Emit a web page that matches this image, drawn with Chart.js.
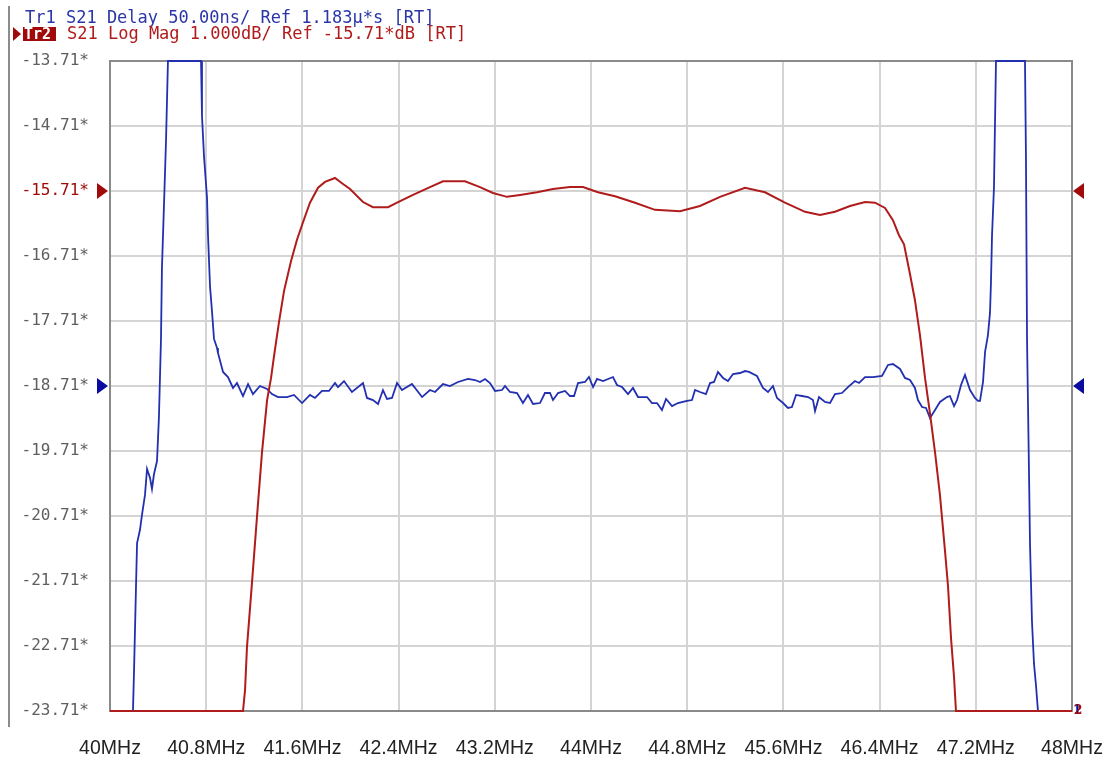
<!DOCTYPE html>
<html>
<head>
<meta charset="utf-8">
<title>S21 Delay / Log Mag</title>
<script src="https://cdn.jsdelivr.net/npm/chart.js@4.4.1/dist/chart.umd.min.js"></script>
<style>
  html, body { margin: 0; padding: 0; background: #ffffff; }
  #wrap { width: 1113px; height: 761px; }
</style>
</head>
<body>
<div id="wrap"><canvas id="vna" width="1113" height="761"></canvas></div>
<script>
// ---------- DATA ----------
// Tr1: S21 group delay (ns), 50 ns/div, ref 1183 ns at the middle line
const freqBlue = [
  40.000, 40.191, 40.200, 40.216, 40.225, 40.249, 40.266, 40.291, 40.308, 40.333,
  40.349, 40.366, 40.391, 40.407, 40.424, 40.432, 40.449, 40.466, 40.482, 40.757,
  40.765, 40.782, 40.807, 40.815, 40.832, 40.848, 40.865, 40.890, 40.898, 40.940,
  40.981, 41.023, 41.056, 41.106, 41.148, 41.189, 41.247, 41.306, 41.347, 41.397,
  41.472, 41.530, 41.597, 41.663, 41.705, 41.763, 41.821, 41.871, 41.896, 41.946,
  42.012, 42.104, 42.137, 42.187, 42.229, 42.270, 42.304, 42.345, 42.387, 42.428,
  42.511, 42.595, 42.661, 42.703, 42.769, 42.827, 42.894, 42.977, 43.035, 43.077,
  43.119, 43.160, 43.202, 43.260, 43.285, 43.326, 43.385, 43.434, 43.476, 43.518,
  43.576, 43.617, 43.659, 43.684, 43.726, 43.784, 43.825, 43.859, 43.892, 43.950,
  43.983, 44.017, 44.050, 44.100, 44.183, 44.216, 44.258, 44.308, 44.349, 44.391,
  44.466, 44.507, 44.549, 44.590, 44.624, 44.674, 44.723, 44.798, 44.840, 44.865,
  44.906, 44.956, 44.990, 45.023, 45.056, 45.098, 45.139, 45.181, 45.239, 45.281,
  45.314, 45.380, 45.430, 45.472, 45.513, 45.547, 45.597, 45.638, 45.671, 45.705,
  45.755, 45.805, 45.846, 45.863, 45.896, 45.946, 45.988, 46.029, 46.087, 46.137,
  46.195, 46.229, 46.279, 46.345, 46.420, 46.470, 46.511, 46.570, 46.611, 46.653,
  46.694, 46.719, 46.753, 46.786, 46.819, 46.861, 46.902, 46.960, 46.985, 47.019,
  47.044, 47.077, 47.110, 47.152, 47.193, 47.218, 47.235, 47.260, 47.277, 47.301,
  47.318, 47.326, 47.335, 47.351, 47.368, 47.609, 47.617, 47.626, 47.642, 47.651,
  47.667, 47.684, 47.701, 47.717, 48.000
];
const delayNs = [
   933.0,  933.0,  964.5, 1027.6, 1062.2, 1072.2, 1083.8, 1099.2, 1119.2, 1112.2,
  1103.8, 1115.3, 1125.3, 1159.2, 1219.2, 1273.8, 1322.2, 1372.2, 1433.0, 1433.0,
  1390.7, 1359.2, 1327.6, 1299.2, 1259.2, 1240.7, 1219.2, 1212.2, 1208.4, 1193.8,
  1189.9, 1181.5, 1185.3, 1175.3, 1184.5, 1176.8, 1183.0, 1180.7, 1176.8, 1174.5,
  1174.5, 1176.1, 1169.9, 1176.1, 1173.8, 1179.2, 1179.2, 1185.3, 1182.2, 1186.8,
  1178.4, 1185.3, 1173.8, 1172.2, 1169.2, 1179.9, 1173.0, 1173.8, 1185.3, 1179.9,
  1184.5, 1174.5, 1179.9, 1178.4, 1184.5, 1183.0, 1186.1, 1188.4, 1187.6, 1186.1,
  1188.4, 1185.3, 1179.2, 1179.9, 1183.0, 1178.4, 1177.6, 1169.9, 1176.1, 1169.2,
  1169.9, 1177.6, 1177.6, 1172.2, 1177.6, 1179.2, 1175.3, 1175.3, 1185.3, 1186.1,
  1189.9, 1182.2, 1188.4, 1186.8, 1189.9, 1183.8, 1182.2, 1176.8, 1181.5, 1174.5,
  1174.5, 1169.9, 1169.9, 1164.5, 1173.0, 1167.6, 1169.9, 1171.5, 1172.2, 1179.9,
  1178.4, 1176.8, 1185.3, 1186.1, 1193.8, 1189.2, 1186.8, 1192.2, 1193.0, 1194.5,
  1193.8, 1190.7, 1181.5, 1178.4, 1183.0, 1173.8, 1169.9, 1166.1, 1166.8, 1176.1,
  1175.3, 1174.5, 1172.2, 1163.8, 1174.5, 1170.7, 1169.9, 1176.8, 1177.6, 1182.2,
  1186.8, 1185.3, 1189.9, 1189.9, 1190.7, 1199.2, 1199.9, 1196.1, 1189.2, 1187.6,
  1181.5, 1172.2, 1166.8, 1166.1, 1158.4, 1164.5, 1170.7, 1174.5, 1175.3, 1167.6,
  1172.2, 1183.8, 1191.5, 1179.9, 1173.8, 1171.5, 1171.5, 1186.1, 1209.2, 1222.2,
  1239.2, 1262.2, 1299.2, 1335.3, 1433.0, 1433.0, 1360.7, 1219.2, 1119.2, 1060.7,
  1002.2,  969.2,  952.2,  933.0,  933.0
];

// Tr2: S21 log magnitude (dB), 1 dB/div, ref -15.71 dB
const freqRed = [
  40.000, 41.106, 41.123, 41.139, 41.181, 41.222, 41.264, 41.306, 41.339, 41.364,
  41.405, 41.447, 41.505, 41.555, 41.605, 41.663, 41.730, 41.788, 41.871, 41.929,
  41.996, 42.104, 42.187, 42.312, 42.387, 42.520, 42.661, 42.769, 42.952, 43.077,
  43.185, 43.301, 43.410, 43.551, 43.684, 43.825, 43.933, 44.058, 44.200, 44.366,
  44.532, 44.740, 44.906, 45.073, 45.281, 45.447, 45.613, 45.780, 45.904, 46.029,
  46.154, 46.279, 46.362, 46.445, 46.511, 46.561, 46.603, 46.653, 46.694, 46.736,
  46.778, 46.819, 46.861, 46.902, 46.944, 46.969, 46.994, 47.019, 47.035, 48.000
];
const magDb = [
  -23.71, -23.71, -23.39, -22.73, -21.73, -20.73, -19.73, -18.93, -18.59, -18.25,
  -17.73, -17.25, -16.79, -16.46, -16.19, -15.89, -15.66, -15.57, -15.51, -15.59,
  -15.68, -15.88, -15.96, -15.96, -15.89, -15.77, -15.65, -15.56, -15.56, -15.65,
  -15.74, -15.80, -15.77, -15.73, -15.68, -15.65, -15.65, -15.73, -15.79, -15.89,
  -16.00, -16.02, -15.94, -15.80, -15.66, -15.73, -15.89, -16.03, -16.08, -16.03,
  -15.94, -15.88, -15.89, -15.97, -16.16, -16.39, -16.53, -16.99, -17.39, -17.93,
  -18.59, -19.13, -19.73, -20.39, -21.25, -21.79, -22.59, -23.19, -23.71, -23.71
];

const yTicks = [-13.71, -14.71, -15.71, -16.71, -17.71, -18.71, -19.71, -20.71, -21.71, -22.71, -23.71];
const xTicks = [40, 40.8, 41.6, 42.4, 43.2, 44, 44.8, 45.6, 46.4, 47.2, 48];
const xTickLabels = ['40MHz', '40.8MHz', '41.6MHz', '42.4MHz', '43.2MHz', '44MHz',
                     '44.8MHz', '45.6MHz', '46.4MHz', '47.2MHz', '48MHz'];

const refDb = -15.71;
const refNs = 1183;
const nsPerDiv = 50;

// ---------- Colours / fonts ----------
const BLUE = '#2230b0';
const RED = '#b01c1c';
const MARK_BLUE = '#0a0aa0';
const MARK_RED = '#a00a0a';
const MONO = '"DejaVu Sans Mono", "Liberation Mono", monospace';

// ---------- Overlay (header, frame, reference markers) ----------
const vnaOverlay = {
  id: 'vnaOverlay',
  beforeDatasetsDraw(chart) {
    const { ctx, chartArea: a } = chart;
    ctx.save();
    ctx.strokeStyle = '#8a8a8a';
    ctx.lineWidth = 2;
    ctx.strokeRect(a.left, a.top, a.right - a.left, a.bottom - a.top);
    ctx.restore();
  },
  afterDraw(chart) {
    const { ctx, chartArea: a, scales } = chart;
    ctx.save();

    // left separator line
    ctx.strokeStyle = '#8c8c8c';
    ctx.lineWidth = 2;
    ctx.beginPath();
    ctx.moveTo(9, 6);
    ctx.lineTo(9, 727);
    ctx.stroke();

    // header
    ctx.font = '17px ' + MONO;
    ctx.textBaseline = 'alphabetic';
    ctx.fillStyle = '#2a36a8';
    ctx.fillText('Tr1 S21 Delay 50.00ns/ Ref 1.183\u00b5*s [RT]', 25, 23);

    ctx.fillStyle = MARK_RED;
    ctx.beginPath();
    ctx.moveTo(13, 27);
    ctx.lineTo(21, 34);
    ctx.lineTo(13, 41);
    ctx.closePath();
    ctx.fill();
    ctx.fillRect(23, 27, 33, 14);
    ctx.fillStyle = '#ffffff';
    ctx.font = 'bold 15px ' + MONO;
    ctx.fillText('Tr2', 24, 39);
    ctx.fillStyle = RED;
    ctx.font = '17px ' + MONO;
    ctx.fillText('S21 Log Mag 1.000dB/ Ref -15.71*dB [RT]', 67, 39);

    // reference markers
    const yr = scales.y.getPixelForValue(refDb);
    const yb = scales.y2.getPixelForValue(refNs);
    const tri = (y, color, left) => {
      ctx.fillStyle = color;
      ctx.beginPath();
      if (left) {
        ctx.moveTo(a.left - 13, y - 8);
        ctx.lineTo(a.left - 2, y);
        ctx.lineTo(a.left - 13, y + 8);
      } else {
        ctx.moveTo(a.right + 12, y - 8);
        ctx.lineTo(a.right + 1, y);
        ctx.lineTo(a.right + 12, y + 8);
      }
      ctx.closePath();
      ctx.fill();
    };
    tri(yr, MARK_RED, true);
    tri(yb, MARK_BLUE, true);
    tri(yr, MARK_RED, false);
    tri(yb, MARK_BLUE, false);

    // stimulus end markers
    ctx.font = 'bold 12px "DejaVu Serif", serif';
    ctx.textBaseline = 'middle';
    ctx.fillStyle = MARK_BLUE;
    ctx.fillText('1', a.right + 1, a.bottom);
    ctx.fillStyle = MARK_RED;
    ctx.fillText('2', a.right + 2, a.bottom);

    ctx.restore();
  }
};

// ---------- Chart ----------
const ctx = document.getElementById('vna').getContext('2d');
new Chart(ctx, {
  type: 'line',
  data: {
    datasets: [
      {
        label: 'Tr2 S21 Log Mag',
        data: freqRed.map((f, i) => ({ x: f, y: magDb[i] })),
        yAxisID: 'y',
        borderColor: RED,
        borderWidth: 2,
        pointRadius: 0,
        tension: 0,
        clip: 3
      },
      {
        label: 'Tr1 S21 Delay',
        data: freqBlue.map((f, i) => ({ x: f, y: delayNs[i] })),
        yAxisID: 'y2',
        borderColor: BLUE,
        borderWidth: 1.8,
        pointRadius: 0,
        tension: 0,
        clip: 3
      }
    ]
  },
  options: {
    responsive: false,
    animation: false,
    devicePixelRatio: 1,
    layout: { padding: { top: 61, right: 41, left: 0, bottom: 0 } },
    plugins: { legend: { display: false }, tooltip: { enabled: false } },
    scales: {
      x: {
        type: 'linear',
        min: 40,
        max: 48,
        afterBuildTicks: s => { s.ticks = xTicks.map(v => ({ value: v })); },
        afterFit: s => { s.height = 50; s.paddingLeft = 0; s.paddingRight = 0; },
        grid: { color: '#d4d4d4', lineWidth: 2, drawTicks: false },
        border: { display: false },
        ticks: {
          padding: 26,
          maxRotation: 0,
          autoSkip: false,
          color: '#222222',
          font: { family: '"Liberation Sans", Arial, sans-serif', size: 19.5 },
          callback: (v, i) => xTickLabels[i]
        }
      },
      y: {
        type: 'linear',
        min: yTicks[yTicks.length - 1],
        max: yTicks[0],
        afterBuildTicks: s => { s.ticks = yTicks.map(v => ({ value: v })); },
        afterFit: s => { s.width = 110; },
        grid: { color: '#d4d4d4', lineWidth: 2, drawTicks: false },
        border: { display: false },
        ticks: {
          padding: 21,
          autoSkip: false,
          font: { family: MONO, size: 16 },
          color: c => Math.abs(c.tick.value - refDb) < 1e-6 ? MARK_RED : '#5f5f5f',
          callback: v => v.toFixed(2) + '*'
        }
      },
      y2: {
        type: 'linear',
        display: false,
        min: refNs - 5 * nsPerDiv,
        max: refNs + 5 * nsPerDiv
      }
    }
  },
  plugins: [vnaOverlay]
});
</script>
</body>
</html>
